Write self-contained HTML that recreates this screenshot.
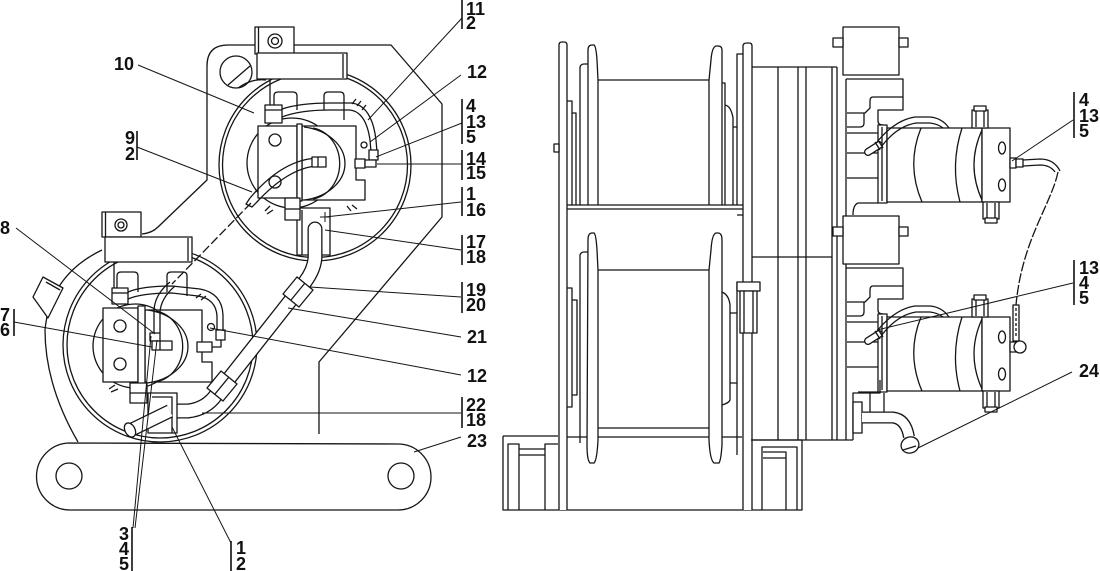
<!DOCTYPE html>
<html><head><meta charset="utf-8">
<style>
html,body{margin:0;padding:0;background:#fff;}
svg{display:block;}
text{font-family:"Liberation Sans",Arial,sans-serif;font-weight:bold;font-size:18px;fill:#111;stroke:none;}
</style></head><body>
<svg width="1100" height="571" viewBox="0 0 1100 571" xmlns="http://www.w3.org/2000/svg">
<g fill="none" stroke="#151515" stroke-width="1.3" stroke-linejoin="round">

<!-- ================= LEFT VIEW ================= -->
<!-- main plate outline -->
<path d="M142,234 Q152,233 158,227 L207,180 L207,66 Q207,45 228,45 L257,45"/>
<path d="M294,45 L391,45 L442,104 L442,217 L319,362 L319,434"/>
<!-- upper hole -->
<circle cx="236" cy="72" r="16"/>
<path d="M228,85 L250,66"/>
<path d="M238,88 Q252,78 266,80"/>
<!-- big circles -->
<circle cx="315" cy="165" r="96"/>
<circle cx="315" cy="165" r="92.5"/>
<path d="M102,250 Q50,275 45,330 Q45,385 78,442"/>
<circle cx="160" cy="345" r="97"/>
<circle cx="160" cy="345" r="93"/>
<!-- small quad bracket -->
<polygon points="33,297 43,277 63,288 48,318" fill="#fff"/>
<path d="M46,282 L60,290"/>

<!-- upper top block -->
<rect x="255" y="27" width="39" height="27" fill="#fff"/>
<line x1="258.5" y1="27" x2="258.5" y2="53"/>
<circle cx="275" cy="41" r="7"/><circle cx="275" cy="41" r="3.5"/>
<rect x="257" y="53" width="90" height="26" fill="#fff"/>
<line x1="343" y1="54" x2="343" y2="78"/>
<path d="M270,79 L270,108"/>
<path d="M274,108 L274,96 Q274,92 278,92 L293,92 Q297,92 297,96 L297,110"/>
<path d="M324,110 L324,96 Q324,92 328,92 L340,92 Q344,92 344,96 L344,120"/>

<!-- upper central assembly -->
<circle cx="292" cy="163" r="45" fill="#fff"/>
<path d="M302,126 L356,126 L356,180 L365,180 L365,200 L302,200 Z" fill="#fff"/>
<path d="M304,127 A49 37 0 0 1 304,200" fill="#fff"/>
<path d="M313,128 A32 36 0 0 1 313,199"/>
<rect x="258" y="126" width="39" height="72" fill="#fff"/>
<circle cx="275" cy="140" r="6"/><circle cx="275" cy="182" r="6"/>
<rect x="297" y="124" width="5" height="77" fill="#fff"/>
<!-- bracket 17 -->
<rect x="297" y="208" width="33" height="47" fill="#fff"/>
<line x1="302" y1="210" x2="302" y2="255"/>
<rect x="265" y="105" width="17" height="18" fill="#fff"/><line x1="265" y1="110" x2="282" y2="110"/>
<rect x="285" y="198" width="15" height="22" fill="#fff"/><line x1="285" y1="209" x2="300" y2="209"/>
<path d="M282,109 Q300,103 330,103 L352,103 Q372,106 376,140 L377,152"/>
<path d="M282,117 Q300,110 330,110 L350,110 Q366,112 370,140 L371,152"/>
<rect x="369" y="150" width="9" height="10" fill="#fff"/>
<circle cx="364" cy="145" r="3"/>
<rect x="355" y="159" width="10" height="9" fill="#fff"/><rect x="365" y="160" width="11" height="7" fill="#fff"/>
<path d="M317,158 Q282,160 250,198"/><path d="M317,166 Q288,168 256,203"/>
<rect x="312" y="157" width="14" height="10" fill="#fff"/><line x1="318" y1="157" x2="318" y2="167"/>
<path d="M250,198 L246,204 L252,207 L256,203"/>
<path d="M251,203 L172,284" stroke-dasharray="9 3"/>
<path d="M352,104 l4,-5 M357,106 l4,-5 M362,110 l4,-5 M270,206 l-5,5 M273,210 l-6,4 M347,206 l4,5 M352,205 l5,4"/>

<!-- pipe 21 -->
<path d="M315,229 L315,258 Q314,270 305,282 L216,395 Q206,409 188,411 L178,411" stroke-width="15" stroke-linecap="round"/>
<path d="M315,229 L315,258 Q314,270 305,282 L216,395 Q206,409 188,411 L178,411" stroke="#fff" stroke-width="12.4" stroke-linecap="round"/>
<polygon points="299,307 283,294 297,277 313,290" fill="#fff"/><path d="M291,300 L305,283"/>
<polygon points="223,401 207,388 221,371 237,384" fill="#fff"/><path d="M215,394 L229,377"/>

<!-- lower top block -->
<rect x="102" y="212" width="39" height="25" fill="#fff"/>
<line x1="105.5" y1="212" x2="105.5" y2="237"/>
<circle cx="121" cy="225" r="6"/><circle cx="121" cy="225" r="3"/>
<rect x="105" y="237" width="87" height="25" fill="#fff"/>
<line x1="188" y1="238" x2="188" y2="261"/>
<path d="M114,262 L114,290"/>
<path d="M117,292 L117,276 Q117,272 121,272 L134,272 Q138,272 138,276 L138,292"/>
<path d="M167,292 L167,276 Q167,272 171,272 L183,272 Q187,272 187,276 L187,296"/>

<!-- lower central assembly -->
<circle cx="135" cy="346" r="42" fill="#fff"/>
<path d="M145,310 L202,310 L202,362 L212,362 L212,382 L145,382 Z" fill="#fff"/>
<path d="M147,310 A49 37 0 0 1 147,383" fill="#fff"/>
<path d="M156,311 A32 36 0 0 1 156,382"/>
<rect x="103" y="308" width="35" height="74" fill="#fff"/>
<circle cx="120" cy="326" r="6"/><circle cx="120" cy="364" r="6"/>
<rect x="138" y="306" width="7" height="78" fill="#fff"/>
<rect x="112" y="288" width="16" height="16" fill="#fff"/><line x1="112" y1="293" x2="128" y2="293"/>
<path d="M128,292 Q142,286 172,286 L200,289 Q222,293 223,315 L223,332"/>
<path d="M128,299 Q142,293 172,293 L198,296 Q216,299 217,316 L217,332"/>
<rect x="216" y="330" width="9" height="10" fill="#fff"/>
<circle cx="211" cy="327" r="3.5"/>
<rect x="197" y="342" width="15" height="10" fill="#fff"/>
<path d="M212,347 L221,347 L221,340"/>
<path d="M154,333 L154,310 Q155,294 170,282"/><path d="M160,333 L160,312 Q161,298 175,286"/>
<rect x="150" y="333" width="10" height="8" fill="#fff"/>
<rect x="152" y="341" width="20" height="9" fill="#fff"/>
<line x1="160" y1="341" x2="160" y2="350"/>
<!-- bracket 18 -->
<rect x="148" y="393" width="29" height="40" fill="#fff"/>
<path d="M152,397 L172,397 L172,433"/>
<rect x="130" y="383" width="17" height="20" fill="#fff"/><line x1="130" y1="393" x2="147" y2="393"/>
<path d="M115,385 l-6,4 M118,389 l-7,3 M196,298 l5,-4 M201,300 l5,-4"/>
<!-- pipe 22 -->
<path d="M131,430 L170,411" stroke-width="14"/>
<path d="M131,430 L170,411" stroke="#fff" stroke-width="11.4"/>
<ellipse cx="130" cy="430" rx="5" ry="7.5" transform="rotate(-28 130 430)" fill="#fff"/>

<!-- link bar 23 -->
<path d="M70,443 L398,444 A33 33 0 0 1 398,510 L70,510 A33.5 33.5 0 0 1 70,443 Z" fill="#fff"/>
<circle cx="69" cy="476" r="13"/>
<circle cx="401" cy="476" r="13"/>

<!-- ================= RIGHT VIEW ================= -->
<!-- base -->
<path d="M503,436 L558,436"/>
<path d="M503,436 L503,510 L802,510 L802,440 L751,440"/>
<path d="M566,437 L742,437"/>
<path d="M508,510 L508,444 L519,444 L519,510 M519,449 L545,449 M519,455 L545,455 M545,510 L545,444 L558,444"/>
<path d="M762,510 L762,447 L797,447 L797,510 M786,510 L786,452 L763,452 M763,458 L786,458"/>

<!-- left frame plate -->
<path d="M559,510 L559,45 Q559,42 562,42 L564,42 Q567,42 567,45 L567,510" fill="#fff"/>
<rect x="554" y="144" width="5" height="8" fill="#fff"/>
<!-- right frame plate -->
<path d="M743,510 L743,46 Q743,43 747,43 L749,43 Q752,43 752,46 L752,510" fill="#fff"/>

<!-- upper drum -->
<path d="M567,101 L572,101 L572,205 M572,113 L576,113 L576,205"/>
<path d="M580,205 L580,67 Q581,64 584,64 L588,64"/>
<path d="M598,205 L598,80 L597,60 Q596,46 594,45 L592,45 Q588,45 588,50 L588,205" fill="#fff"/>
<path d="M598,80 L709,80"/>
<path d="M709,205 L709,80 L711,60 Q712,47 716,46 L718,46 Q722,46 722,50 L722,205" fill="#fff"/>
<path d="M722,83 L725,83 L725,205 M725,105 Q731,106 733,118 L733,205 M733,127 L737,127 M737,205 L737,54 L743,54"/>
<path d="M567,205 L743,205 M567,209 L743,209"/>

<!-- lower drum -->
<path d="M567,288 L572,288 L572,407 L567,407 M572,300 L577,300 L577,395 L572,395"/>
<path d="M580,443 L580,255 Q581,252 584,252 L588,252"/>
<path d="M598,440 L598,270 L597,250 Q596,234 594,233 L592,233 Q588,233 588,240 L587,445 Q587,460 590,463 L594,463 Q597,460 598,440" fill="#fff"/>
<path d="M598,270 L709,270 M598,428 L709,428"/>
<path d="M709,440 L709,270 L711,250 Q712,234 716,233 L718,233 Q722,233 722,240 L722,445 Q721,460 719,463 L714,463 Q710,460 709,440" fill="#fff"/>
<path d="M722,292 Q729,295 730,305 L730,400 Q729,403 722,405 M730,313 L737,313 M730,383 L737,383 M737,455 L737,282 M737,215 L743,215"/>
<rect x="737" y="282" width="23" height="9" fill="#fff"/>
<rect x="740" y="291" width="17" height="42" fill="#fff"/>
<path d="M744,291 L744,333 M753,291 L753,333"/>

<!-- gearbox -->
<path d="M752,67 L837,67"/>
<path d="M778,67 L778,440 M798,67 L798,440 M806,67 L806,440 M832,67 L832,440 M837,67 L837,440 M846,79 L846,440"/>
<path d="M752,257 L832,257"/>
<path d="M751,440 L853,440"/>

<!-- upper brake -->
<g id="brk">
<rect x="843" y="27" width="56" height="48" fill="#fff"/>
<rect x="833" y="38" width="10" height="9" fill="#fff"/>
<rect x="899" y="38" width="9" height="9" fill="#fff"/>
<path d="M846,79 L903,79 L903,110 L878,110 L878,121 Q878,125 883,125"/>
<path d="M903,97 L873,97 Q870,97 870,101 L870,108 L865,113 L847,113"/>
<path d="M864,113 L864,123 Q864,127 860,127 L847,127"/>
<path d="M847,133 L878,133 M847,153 L878,153 M847,178 L878,178 M858,203 L878,203"/>
<rect x="878" y="125" width="9" height="78" fill="#fff"/>
<line x1="882" y1="127" x2="882" y2="201"/>
<rect x="887" y="128" width="95" height="74" fill="#fff"/>
<path d="M921,128 Q906,165 922,202"/>
<path d="M962,128 Q950,165 960,202"/>
<path d="M982,130 Q966,165 982,200"/>
<rect x="982" y="128" width="28" height="74" fill="#fff"/>
<ellipse cx="1002" cy="148" rx="3.5" ry="6"/>
<ellipse cx="1002" cy="185" rx="3.5" ry="6"/>
<rect x="972" y="110" width="16" height="18" fill="#fff"/>
<rect x="974" y="106" width="12" height="5" fill="#fff"/>
<path d="M976,111 L976,127 M984,111 L984,127"/>
<rect x="983" y="202" width="16" height="17" fill="#fff"/>
<rect x="985" y="218" width="12" height="5" fill="#fff"/>
<path d="M987,203 L987,218 M995,203 L995,218"/>
<path d="M877,142 Q895,120 915,117 L930,117 Q942,118 949,128"/>
<path d="M881,147 Q897,126 916,123 L930,123 Q938,124 943,128"/>
<path d="M868,152 L879,145" stroke-width="8" stroke-linecap="round"/>
<path d="M868,152 L879,145" stroke="#fff" stroke-width="5.4" stroke-linecap="round"/>
<path d="M875,142 L880,150 M878,140 L883,148"/>
</g>
<path d="M858,203 Q853,205 853,215"/>
<!-- upper side fitting + hose -->
<rect x="1010" y="158" width="6" height="10" fill="#fff"/>
<rect x="1016" y="159" width="7" height="8" fill="#fff"/>
<path d="M1023,160 L1040,159 Q1054,159 1060,171"/>
<path d="M1023,166 L1040,165 Q1050,165 1055,172"/>
<path d="M1058,172 C1051,205 1022,240 1016,305" stroke-dasharray="10 2"/>

<!-- lower brake (copy) -->
<use href="#brk" transform="translate(0,189)"/>
<!-- lower side fitting -->
<rect x="1013" y="305" width="6" height="36" fill="#fff"/>
<path d="M1016,308 L1016,338" stroke-dasharray="3 2"/>
<rect x="1010" y="342" width="7" height="10" fill="#fff"/>
<circle cx="1020" cy="347" r="6" fill="#fff"/>
<!-- lower housing bottom -->
<path d="M880,380 L880,393 L853,393 L853,440"/>
<rect x="853" y="402" width="9" height="31" fill="#fff"/>
<path d="M870,393 L870,412 M884,393 L884,412"/>
<!-- pipe 24 -->
<path d="M862,417.5 L893,417.5 Q906,419 909,437" stroke-width="12"/>
<path d="M862,417.5 L893,417.5 Q906,419 909,437" stroke="#fff" stroke-width="9.4"/>
<ellipse cx="910" cy="445" rx="9" ry="8" transform="rotate(-20 910 445)" fill="#fff"/>
<path d="M903,450 L916,446"/>
</g>

<!-- ================= LEADERS ================= -->
<g fill="none" stroke="#151515" stroke-width="1">
<path d="M138,65 L254,113"/>
<path d="M137,147 L252,192"/>
<path d="M462,18 L368,120"/>
<path d="M461,75 L370,142"/>
<path d="M462,123 L376,157"/>
<path d="M377,164 L462,164"/>
<path d="M461,202 L325,217"/>
<path d="M320,217 L330,217 M325,212 L325,222"/>
<path d="M461,250 L325,230"/>
<path d="M461,297 L310,287"/>
<path d="M461,337 L288,308"/>
<path d="M461,375 L210,328"/>
<path d="M461,413 L202,413"/>
<path d="M461,437 L414,452"/>
<path d="M16,228 L155,334"/>
<path d="M14,322 L152,347"/>
<path d="M133,528 L151,336 M135,528 L157,340"/>
<path d="M231,543 L172,427"/>
<path d="M1073,120 L1012,161"/>
<path d="M1073,283 L877,330"/>
<path d="M1072,372 L918,448"/>
</g>
<g stroke="#111" stroke-width="1.6">
<path d="M462,0 L462,29"/>
<path d="M137,131 L137,160"/>
<path d="M462,99 L462,144"/>
<path d="M462,150 L462,180"/>
<path d="M462,187 L462,216"/>
<path d="M462,235 L462,265"/>
<path d="M462,282 L462,313"/>
<path d="M462,397 L462,428"/>
<path d="M14,309 L14,336"/>
<path d="M132,527 L132,571"/>
<path d="M231,541 L231,571"/>
<path d="M1074,92 L1074,138"/>
<path d="M1074,260 L1074,305"/>
</g>

<!-- ================= LABELS ================= -->
<text x="466" y="15">11</text>
<text x="466" y="29">2</text>
<text x="467" y="78">12</text>
<text x="114" y="70">10</text>
<text x="135" y="144" text-anchor="end">9</text>
<text x="135" y="160" text-anchor="end">2</text>
<text x="466" y="112">4</text>
<text x="466" y="128">13</text>
<text x="466" y="143">5</text>
<text x="466" y="165">14</text>
<text x="466" y="179">15</text>
<text x="466" y="200">1</text>
<text x="466" y="216">16</text>
<text x="466" y="248">17</text>
<text x="466" y="263">18</text>
<text x="466" y="296">19</text>
<text x="466" y="311">20</text>
<text x="467" y="343">21</text>
<text x="467" y="382">12</text>
<text x="466" y="411">22</text>
<text x="466" y="426">18</text>
<text x="467" y="447">23</text>
<text x="0" y="234">8</text>
<text x="0" y="321">7</text>
<text x="0" y="336">6</text>
<text x="129" y="540" text-anchor="end">3</text>
<text x="129" y="555" text-anchor="end">4</text>
<text x="129" y="570" text-anchor="end">5</text>
<text x="236" y="554">1</text>
<text x="236" y="570">2</text>
<text x="1079" y="106">4</text>
<text x="1079" y="122">13</text>
<text x="1079" y="137">5</text>
<text x="1079" y="274">13</text>
<text x="1079" y="289">4</text>
<text x="1079" y="304">5</text>
<text x="1079" y="377">24</text>
</svg>
</body></html>
